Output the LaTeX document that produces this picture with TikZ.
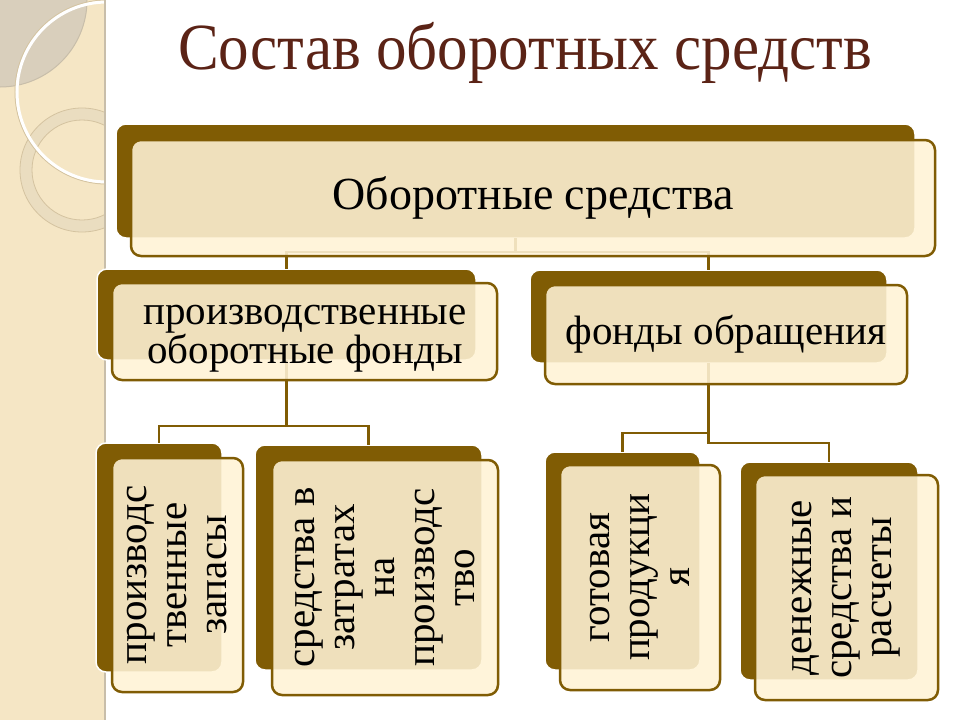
\documentclass[tikz,border=0pt]{standalone}
\usepackage{fontspec}
\setmainfont{Liberation Serif}
\usetikzlibrary{positioning}
\definecolor{boxbrown}{RGB}{128,92,4}
\definecolor{cream}{RGB}{255,243,214}
\definecolor{stripbg}{RGB}{245,230,197}
\definecolor{stripgrey}{RGB}{217,207,188}
\definecolor{stripedge}{RGB}{200,190,170}
\definecolor{ringtan}{RGB}{234,221,192}
\definecolor{ringedge}{RGB}{212,195,160}
\definecolor{titlebrown}{RGB}{91,35,22}

\begin{document}
\begin{tikzpicture}[x=1pt,y=-1pt,
    back/.style={fill=boxbrown, draw=white, line width=1.5pt, rounded corners=10pt, inner sep=0pt, outer sep=0pt},
    front/.style={fill=cream, fill opacity=0.88, text opacity=1, draw=boxbrown, line width=2.5pt,
        rounded corners=10pt, inner sep=0pt, outer sep=0pt, align=center},
    link/.style={draw=boxbrown, line width=2.5pt},
    wide/.style={font=\fontsize{41}{37}\selectfont, align=center},
    tall/.style={font=\fontsize{41}{40}\selectfont, rotate=90}]
\useasboundingbox (0,0) rectangle (960,720);
\fill[white] (0,0) rectangle (960,720);

% left strip
\begin{scope}
    \clip (0,0) rectangle (104,720);
    \fill[stripbg] (0,0) rectangle (104,720);
    \fill[stripgrey] (0,0) circle[radius=87];
    \draw[stripedge, line width=1pt] (0,0) circle[radius=87];
    \draw[ringtan, line width=12pt] (82,170) circle[radius=56];
    \draw[ringedge, line width=0.8pt] (82,170) circle[radius=62] (82,170) circle[radius=50];
    \draw[ringedge, line width=1pt] (107,92) circle[radius=92];
    \draw[white, line width=3pt] (107,92) circle[radius=90];
\end{scope}
\draw[stripedge, line width=2pt] (105,0) -- (105,720);

% title
\node[anchor=base, text=titlebrown, font=\fontsize{61}{61}\selectfont, yscale=1.08] (title) at (525,69) {Состав оборотных средств};

% back boxes
\node[back, minimum width=799pt, minimum height=114pt] (topb) at (515.5,181) {};
\node[back, minimum width=379pt, minimum height=91pt] (prodb) at (286.5,314.5) {};
\node[back, minimum width=357pt, minimum height=93pt] (obrb) at (708.5,316.5) {};
\node[back, minimum width=126pt, minimum height=229pt] (zapb) at (159,557.5) {};
\node[back, minimum width=227pt, minimum height=225pt] (zatrb) at (368.5,557.5) {};
\node[back, minimum width=155pt, minimum height=218pt] (gotb) at (622.5,561) {};
\node[back, minimum width=178pt, minimum height=218pt] (denb) at (829,571) {};

% connectors
\draw[link] (topb.south) -- (topb.south |- 0,252) -| (prodb.north);
\draw[link] (topb.south |- 0,252) -| (obrb.north);
\draw[link] (prodb.south) -- (prodb.south |- 0,426) -| (zapb.north);
\draw[link] (prodb.south |- 0,426) -| (zatrb.north);
\draw[link] (obrb.south) -- (obrb.south |- 0,443) -| (denb.north);
\draw[link] (obrb.south |- 0,433) -| (gotb.north);

% front boxes
\node[front, minimum width=804pt, minimum height=116pt, font=\fontsize{46}{46}\selectfont] (top) at (533,198) {Оборотные средства};
\node[front, minimum width=385pt, minimum height=97pt] (prod) at (304.5,331.5) {};
\node[wide] (prodtext) at (305,339) {производственные\\оборотные фонды};
\node[front, wide, minimum width=362pt, minimum height=99pt] (obr) at (726,334.5) {фонды обращения};
\node[front, tall, minimum width=234pt, minimum height=131pt] (zap) at (177.5,575) {производс\\твенные\\запасы};
\node[front, tall, minimum width=235pt, minimum height=226pt] (zatr) at (385,577.5) {средства в\\затратах\\на\\производс\\тво};
\node[front, tall, minimum width=225pt, minimum height=160pt] (got) at (640,577.5) {готовая\\продукци\\я};
\node[front, tall, minimum width=225pt, minimum height=183pt] (den) at (846.5,587.5) {денежные\\средства и\\расчеты};
\end{tikzpicture}
\end{document}
